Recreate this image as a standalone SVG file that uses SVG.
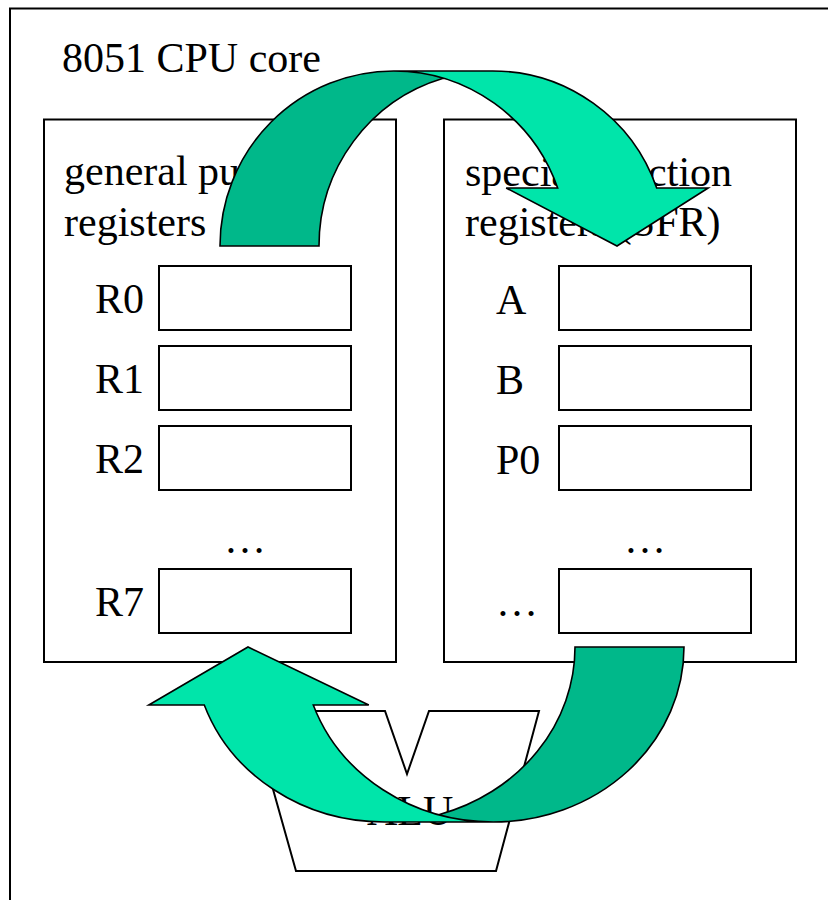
<svg xmlns="http://www.w3.org/2000/svg" width="828" height="900" viewBox="0 0 828 900">
<style>
.frame{fill:#fff;stroke:#000;stroke-width:2}
.box{fill:#fff;stroke:#000;stroke-width:2}
.reg{fill:#fff;stroke:#000;stroke-width:2}
.t{font-family:"Liberation Serif","Times New Roman",serif;font-size:42px;fill:#000}
.light{fill:#00E5AA;stroke:none}
.dark{fill:#00B88A;stroke:none}
.outline{fill:none;stroke:#000;stroke-width:1.6;stroke-linejoin:miter}
</style>
<rect width="828" height="900" fill="#fff"/>
<g id="cpu-core">
  <rect class="frame" x="10" y="8.5" width="830" height="900"/>
  <text class="t" x="62" y="72">8051 CPU core</text>
</g>
<g id="gpr">
  <rect class="box" x="44" y="119.5" width="352" height="542.5"/>
  <text class="t" x="64" y="185">general purpose</text>
  <text class="t" x="64" y="236">registers</text>
</g>
<g id="reg-R0"><rect class="reg" x="159" y="266" width="192" height="64"/><text class="t" x="95" y="313">R0</text></g>
<g id="reg-R1"><rect class="reg" x="159" y="346" width="192" height="64"/><text class="t" x="95" y="393">R1</text></g>
<g id="reg-R2"><rect class="reg" x="159" y="426" width="192" height="64"/><text class="t" x="95" y="473">R2</text></g>
<g id="gpr-dots"><text class="t" x="224" y="553">…</text></g>
<g id="reg-R7"><rect class="reg" x="159" y="569" width="192" height="64"/><text class="t" x="95" y="616">R7</text></g>
<g id="sfr">
  <rect class="box" x="444" y="119.5" width="352" height="542.5"/>
  <text class="t" x="465" y="186">special function</text>
  <text class="t" x="465" y="236">registers (SFR)</text>
</g>
<g id="reg-A"><rect class="reg" x="559" y="266" width="192" height="64"/><text class="t" x="496" y="314">A</text></g>
<g id="reg-B"><rect class="reg" x="559" y="346" width="192" height="64"/><text class="t" x="496" y="394">B</text></g>
<g id="reg-P0"><rect class="reg" x="559" y="426" width="192" height="64"/><text class="t" x="496" y="474">P0</text></g>
<g id="sfr-dots"><text class="t" x="624" y="553">…</text></g>
<g id="reg-more"><rect class="reg" x="559" y="569" width="192" height="64"/><text class="t" x="496" y="616">…</text></g>
<g id="alu">
  <polygon points="251,711 385,711 407,774 429,711 539,711 496,871 296,871" fill="#fff" stroke="#000" stroke-width="2" stroke-linejoin="miter"/>
  <text class="t" x="367" y="825">ALU</text>
</g>
<g id="connectors">
  <g id="arrow-gpr-to-sfr">
    <path class="light" d="M617,246 L506.18,188 L557.68,188 A173.75,175 0 0 0 393.75,71 L492.75,71 A173.75,175 0 0 1 656.68,188 L708.18,188 Z"/>
    <path class="dark" d="M443.25,78.25 A173.75,175 0 0 0 319,246 L220,246 A173.75,175 0 0 1 443.25,78.25 Z"/>
    <path class="outline" d="M443.25,78.25 A173.75,175 0 0 0 319,246 L220,246 A173.75,175 0 0 1 393.75,71 L492.75,71 A173.75,175 0 0 1 656.68,188 L708.18,188 L617,246 L506.18,188 L557.68,188 A173.75,175 0 0 0 393.75,71"/>
  </g>
  <g id="arrow-sfr-to-gpr" transform="translate(822,0) scale(-1,1)">
    <path class="light" d="M574,647 L673.22,705 L617.72,705 A190.75,175 0 0 1 437.75,822 L328.75,822 A190.75,175 0 0 0 508.72,705 L453.22,705 Z"/>
    <path class="dark" d="M383.25,814.71 A190.75,175 0 0 1 247,647 L138,647 A190.75,175 0 0 0 383.25,814.71 Z"/>
    <path class="outline" d="M383.25,814.71 A190.75,175 0 0 1 247,647 L138,647 A190.75,175 0 0 0 328.75,822 L437.75,822 A190.75,175 0 0 0 617.72,705 L673.22,705 L574,647 L453.22,705 L508.72,705 A190.75,175 0 0 1 328.75,822"/>
  </g>
</g>
</svg>
